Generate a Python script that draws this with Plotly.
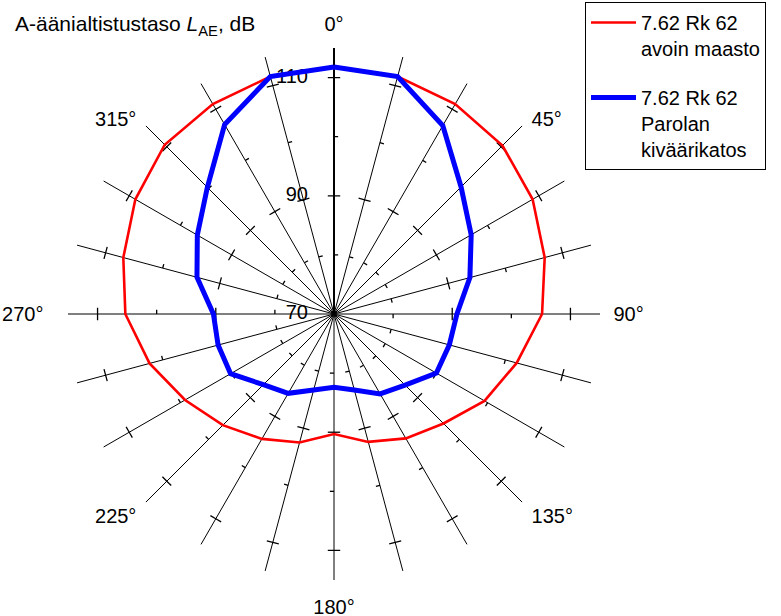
import math
import plotly.graph_objects as go

# ---- data ----
angles = [0, 15, 30, 45, 60, 75, 90, 105, 120, 135, 150, 165,
          180, 195, 210, 225, 240, 255, 270, 285, 300, 315, 330, 345]
open_field = [111.8, 111.6, 111.0, 110.3, 108.8, 106.9, 105.2, 102.0, 99.4, 96.2, 94.3, 92.4,
              90.3, 92.5, 94.4, 96.6, 99.1, 102.3, 105.3, 106.9, 108.8, 110.5, 111.0, 111.6]
shelter = [111.8, 111.6, 106.8, 100.4, 96.8, 93.8, 90.8, 90.2, 90.0, 87.0, 85.6, 83.3,
           82.4, 83.3, 85.5, 86.9, 90.2, 90.3, 90.4, 94.0, 96.7, 100.3, 107.0, 111.6]
name_open = "7.62 Rk 62<br>avoin maasto"
name_shelter = "7.62 Rk 62<br>Parolan<br>kiväärikatos"
NB = "\u00a0"
angle_labels = {0: "0°", 45: NB + "<br>" + NB + "<br>45°", 90: "90°",
                135: "135°<br>" + NB + "<br>" + NB, 180: "180°",
                225: "225°<br>" + NB + "<br>" + NB, 270: "270°" + NB * 2,
                315: NB + "<br>" + NB + "<br>315°"}
radial_labels = [70, 90, 110]
major_ticks = [90, 110]
minor_ticks = [80, 100]
r_min, r_max = 70, 115

FONT = "Liberation Sans, Arial, sans-serif"
FS = 20
W, H = 781, 616

fig = go.Figure()

# tick marks on every spoke, built in polar coordinates
def tick_trace(values, half_up, half_down):
    rr, tt = [], []
    for a in angles:
        for v in values:
            base = v - r_min
            p1r = r_min + math.hypot(base, half_down)
            p1t = a - math.degrees(math.atan2(half_down, base))
            p2r = r_min + math.hypot(base, half_up)
            p2t = a + math.degrees(math.atan2(half_up, base))
            rr += [p1r, v, p2r, None]
            tt += [p1t, a, p2t, None]
    return go.Scatterpolar(r=rr, theta=tt, mode="lines",
                           line=dict(color="black", width=1.3),
                           hoverinfo="skip", showlegend=False)

fig.add_trace(tick_trace(major_ticks, 1.05, 1.05))
fig.add_trace(tick_trace(minor_ticks, 0.7, 0.0))

# radial value labels along the 0° spoke
fig.add_trace(go.Scatterpolar(
    r=radial_labels, theta=[0] * len(radial_labels), mode="markers+text",
    text=[str(v) for v in radial_labels], textposition="middle left",
    marker=dict(size=40, color="rgba(0,0,0,0)"),
    textfont=dict(family=FONT, size=FS, color="black"),
    hoverinfo="skip", showlegend=False))

fig.add_trace(go.Scatterpolar(
    r=open_field + open_field[:1], theta=angles + angles[:1], mode="lines",
    line=dict(color="#ff0000", width=2.6), name=name_open, legendgroup="a"))
fig.add_trace(go.Scatterpolar(
    r=shelter + shelter[:1], theta=angles + angles[:1], mode="lines",
    line=dict(color="#0000ff", width=5), name=name_shelter, legendgroup="b"))

fig.update_layout(
    width=W, height=H,
    margin=dict(l=0, r=0, t=0, b=0),
    paper_bgcolor="white", plot_bgcolor="white",
    font=dict(family=FONT, size=FS, color="black"),
    title=dict(text="A-äänialtistustaso <i>L</i><sub>AE</sub>, dB",
               x=15 / W, xanchor="left", y=1 - 24 / H, yanchor="middle",
               font=dict(family=FONT, size=21, color="black")),
    polar=dict(
        domain=dict(x=[68 / W, 600 / W], y=[1 - 580 / H, 1 - 48 / H]),
        bgcolor="white",
        angularaxis=dict(
            direction="clockwise", rotation=90,
            tickmode="array", tickvals=angles,
            ticktext=[angle_labels.get(a, "") for a in angles],
            showgrid=True, gridcolor="black", gridwidth=1.2,
            showline=False, ticks="outside", ticklen=9,
            tickcolor="rgba(0,0,0,0)", layer="below traces",
            tickfont=dict(family=FONT, size=FS, color="black")),
        radialaxis=dict(
            range=[r_min, r_max], angle=90,
            showticklabels=False, ticks="",
            showgrid=False, showline=True, linecolor="black", linewidth=2,
            layer="below traces"),
    ),
    legend=dict(x=585 / W, y=1 - 2 / H, xanchor="left", yanchor="top",
                bordercolor="black", borderwidth=1, bgcolor="white",
                font=dict(family=FONT, size=FS, color="black"),
                tracegroupgap=20, valign="top", traceorder="grouped",
                itemwidth=45),
)

fig.write_html("out.html", config={"displayModeBar": False},
               post_script="document.body.style.margin='0';")
